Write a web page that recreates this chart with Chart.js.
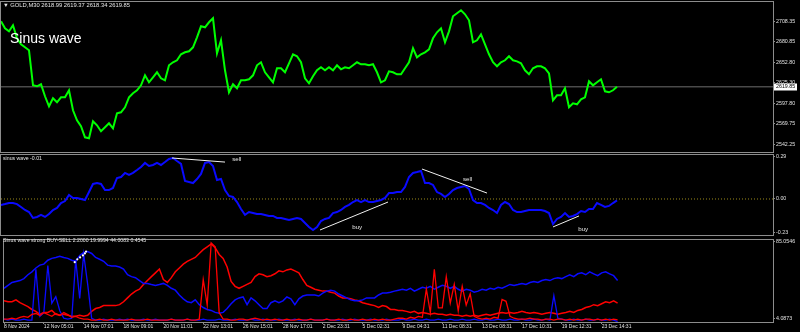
<!DOCTYPE html>
<html>
<head>
<meta charset="utf-8">
<title>GOLD,M30 Sinus wave</title>
<script src="https://cdn.jsdelivr.net/npm/chart.js@4.4.1/dist/chart.umd.min.js"></script>
<style>
html, body { margin:0; padding:0; background:#000; }
#wrap { position:relative; width:800px; height:332px; overflow:hidden; background:#000; }
#wrap canvas { position:absolute; left:0; }
.txt { position:absolute; color:#e6e6e6; font-family:"Liberation Sans","DejaVu Sans",sans-serif; font-size:5.2px; line-height:8px; white-space:nowrap; }
</style>
</head>
<body>
<div id="wrap">
  <canvas id="priceChart" width="800" height="154" style="top:0px"></canvas>
  <canvas id="sinusChart" width="800" height="82" style="top:154px"></canvas>
  <canvas id="strongChart" width="800" height="96" style="top:236px"></canvas>
  <div class="txt" style="left:3px;top:1px;font-size:5.8px">▼ GOLD,M30 2618.99 2619.37 2618.34 2619.85</div>
  <div class="txt" style="left:10px;top:30px;font-size:14px;line-height:16px;color:#fff">Sinus wave</div>
  <div class="txt" style="left:3px;top:154px">sinus wave -0.01</div>
  <div class="txt" style="left:3px;top:236px">Sinus wave strong BUY-SELL 2.2000 19.9994 44.0083 0.4545</div>
</div>
<script>
// one bar sample every 4px, right part of the window left empty (chart shift)
var X_MAX = 193;

var dateTicks = [0, 10, 20, 30, 40, 50, 60, 70, 80, 90, 100, 110, 120, 130, 140, 150];
var dateLabels = ['8 Nov 2024', '12 Nov 05:01', '14 Nov 07:01', '18 Nov 09:01', '20 Nov 11:01',
  '22 Nov 13:01', '26 Nov 15:01', '28 Nov 17:01', '2 Dec 23:31', '5 Dec 02:31', '9 Dec 04:31',
  '11 Dec 08:31', '13 Dec 08:31', '17 Dec 10:31', '19 Dec 12:31', '23 Dec 14:31'];

var priceTicks = [2708.35, 2680.85, 2652.80, 2625.30, 2597.80, 2569.75, 2542.25];
var sinusTicks = [0.29, 0.00, -0.23];
var strongTicks = [85.0546, 4.0873];
var lastPrice = 2619.85;

var price = [
  2708.4, 2698.9, 2694.8, 2703.0, 2685.4, 2677.3, 2673.2, 2669.2, 2621.9, 2620.6,
  2623.3, 2607.1, 2593.6, 2604.4, 2599.0, 2605.7, 2605.7, 2615.2, 2588.2, 2574.7,
  2566.6, 2551.7, 2550.4, 2573.3, 2567.9, 2559.8, 2565.2, 2570.6, 2563.9, 2584.1,
  2585.5, 2592.2, 2605.7, 2611.1, 2615.2, 2621.9, 2635.4, 2626.0, 2632.7, 2639.5,
  2631.4, 2628.7, 2648.9, 2653.0, 2655.7, 2663.8, 2666.5, 2667.8, 2673.2, 2686.7,
  2701.6, 2700.2, 2707.0, 2712.4, 2665.1, 2682.7, 2642.2, 2612.5, 2623.3, 2617.9,
  2628.7, 2628.7, 2630.0, 2635.4, 2648.9, 2653.0, 2639.5, 2632.7, 2626.0, 2644.9,
  2644.9, 2639.5, 2651.6, 2663.8, 2661.1, 2653.0, 2631.4, 2624.6, 2634.1, 2642.2,
  2646.2, 2642.2, 2646.2, 2642.2, 2648.9, 2643.5, 2646.2, 2644.9, 2648.9, 2653.0,
  2650.3, 2650.3, 2648.9, 2650.3, 2639.5, 2626.0, 2628.7, 2640.8, 2639.5, 2636.8,
  2636.8, 2644.9, 2653.0, 2671.9, 2659.7, 2663.8, 2666.5, 2670.5, 2685.4, 2693.5,
  2698.9, 2680.0, 2694.8, 2715.1, 2719.2, 2723.2, 2717.8, 2709.7, 2680.0, 2682.7,
  2690.8, 2677.3, 2663.8, 2653.0, 2647.6, 2653.0, 2655.7, 2661.1, 2655.7, 2654.3,
  2651.6, 2642.2, 2636.8, 2644.9, 2647.6, 2647.6, 2644.9, 2638.1, 2601.7, 2608.4,
  2608.4, 2617.9, 2592.2, 2597.6, 2596.3, 2603.0, 2605.7, 2627.3, 2621.9, 2626.0,
  2630.0, 2613.8, 2612.5, 2615.2, 2619.85];

var sinus = [
  -0.041, -0.035, -0.028, -0.028, -0.035, -0.055, -0.076, -0.090, -0.131, -0.124,
  -0.110, -0.124, -0.104, -0.076, -0.062, -0.028, -0.014, 0.028, 0.007, 0.007,
  0.000, -0.007, 0.048, 0.104, 0.110, 0.104, 0.062, 0.062, 0.076, 0.145,
  0.152, 0.180, 0.166, 0.180, 0.200, 0.221, 0.249, 0.228, 0.235, 0.249,
  0.235, 0.255, 0.276, 0.283, 0.262, 0.242, 0.124, 0.117, 0.110, 0.138,
  0.173, 0.249, 0.255, 0.228, 0.131, 0.138, 0.062, 0.021, 0.014, -0.021,
  -0.069, -0.110, -0.090, -0.097, -0.104, -0.104, -0.110, -0.117, -0.117, -0.131,
  -0.131, -0.138, -0.145, -0.138, -0.131, -0.138, -0.166, -0.193, -0.214, -0.193,
  -0.152, -0.138, -0.131, -0.097, -0.090, -0.076, -0.055, -0.041, -0.021, -0.007,
  -0.021, -0.007, -0.021, -0.021, -0.014, -0.007, 0.007, 0.041, 0.041, 0.048,
  0.048, 0.083, 0.152, 0.180, 0.186, 0.193, 0.110, 0.110, 0.097, 0.048,
  0.035, 0.014, 0.035, 0.062, 0.076, 0.083, 0.090, 0.069, -0.007, -0.028,
  -0.028, -0.041, -0.062, -0.076, -0.097, -0.041, -0.021, -0.035, -0.076, -0.090,
  -0.090, -0.083, -0.076, -0.076, -0.076, -0.076, -0.083, -0.097, -0.173, -0.138,
  -0.124, -0.097, -0.124, -0.117, -0.104, -0.083, -0.090, -0.069, -0.069, -0.028,
  -0.041, -0.055, -0.048, -0.028, -0.010];

// white trend lines and their words on the sinus panel, [sample, value]
var sellLine1 = [[42.75, 0.283], [56, 0.255]];
var sellLine2 = [[105.25, 0.207], [121.5, 0.041]];
var buyLine1 = [[79.75, -0.214], [96.75, -0.021]];
var buyLine2 = [[138, -0.193], [144.5, -0.117]];
var waveTags = [['sell', 57.8, 0.276], ['sell', 115.5, 0.138], ['buy', 87.8, -0.193], ['buy', 144.3, -0.207]];

var buyStrong = [
  35.8, 38.9, 42.0, 43.0, 44.0, 46.1, 50.2, 53.3, 57.4, 60.4,
  61.5, 65.6, 67.6, 68.6, 69.7, 68.6, 67.6, 65.6, 64.5, 70.7,
  73.8, 74.8, 72.8, 68.6, 66.6, 64.5, 60.4, 59.4, 59.4, 58.4,
  56.3, 50.2, 48.2, 47.1, 44.0, 41.0, 41.0, 39.9, 38.9, 39.9,
  41.0, 38.9, 35.8, 33.8, 28.7, 24.6, 21.5, 20.5, 23.5, 18.4,
  15.4, 13.3, 12.3, 10.2, 9.2, 10.2, 14.3, 19.4, 23.5, 25.6,
  26.6, 18.4, 25.6, 22.5, 18.4, 14.3, 14.3, 20.5, 22.5, 20.5,
  22.5, 26.6, 24.6, 18.4, 24.6, 27.6, 28.7, 28.7, 28.7, 27.6,
  30.7, 32.8, 33.8, 32.8, 29.7, 27.6, 25.6, 23.5, 22.5, 22.5,
  23.5, 25.6, 25.6, 25.6, 28.7, 30.7, 30.7, 31.7, 32.8, 33.8,
  34.8, 33.8, 35.8, 32.8, 34.8, 36.9, 35.8, 37.9, 34.8, 36.9,
  38.9, 37.9, 35.8, 37.9, 34.8, 32.8, 34.8, 33.8, 31.7, 32.8,
  34.8, 33.8, 35.8, 34.8, 36.9, 35.8, 37.9, 39.9, 38.9, 39.9,
  41.0, 39.9, 42.0, 43.0, 42.0, 44.0, 45.1, 44.0, 46.1, 47.1,
  46.1, 48.2, 50.2, 48.2, 51.2, 52.2, 50.2, 53.3, 51.2, 49.2,
  52.2, 53.3, 51.2, 49.2, 44.0];

var sellStrong = [
  22.5, 21.5, 21.5, 23.5, 20.5, 18.4, 16.4, 13.3, 11.3, 8.2,
  10.2, 10.2, 12.3, 8.2, 7.2, 8.2, 7.2, 6.1, 6.1, 7.2,
  6.1, 7.2, 11.3, 14.3, 15.4, 17.4, 17.4, 17.4, 17.4, 18.4,
  21.5, 25.6, 29.7, 32.8, 34.8, 39.9, 44.0, 48.2, 52.2, 56.3,
  45.1, 42.0, 47.1, 53.3, 57.4, 61.5, 64.5, 66.6, 68.6, 72.8,
  76.9, 79.9, 83.0, 78.9, 71.7, 67.6, 58.4, 43.0, 37.9, 35.8,
  37.9, 39.9, 42.0, 48.2, 51.2, 50.2, 48.2, 49.2, 51.2, 54.3,
  53.3, 55.3, 56.3, 54.3, 52.2, 45.1, 38.9, 36.9, 34.8, 33.8,
  32.8, 32.8, 31.7, 30.7, 27.6, 25.6, 25.6, 24.6, 23.5, 22.5,
  20.5, 19.4, 18.4, 17.4, 15.4, 17.4, 16.4, 13.3, 13.3, 12.3,
  12.3, 11.3, 10.2, 11.3, 9.2, 10.2, 9.2, 8.2, 9.2, 8.2,
  8.2, 7.2, 8.2, 7.2, 7.2, 6.1, 7.2, 6.1, 7.2, 6.1,
  7.2, 8.2, 7.2, 8.2, 9.2, 10.2, 9.2, 10.2, 9.2, 10.2,
  11.3, 10.2, 9.2, 10.2, 9.2, 8.2, 9.2, 10.2, 9.2, 8.2,
  9.2, 10.2, 11.3, 10.2, 12.3, 13.3, 15.4, 16.4, 18.4, 17.4,
  19.4, 21.5, 20.5, 22.5, 20.0];

var buyPulse = [
  3, 2, 3, 2, 2, 3, 2, 2, 56, 6,
  10, 60, 20, 27, 12, 4, 3, 4, 66, 25,
  72, 40, 4, 2, 2, 3, 2, 2, 2, 3,
  2, 3, 2, 2, 2, 3, 2, 2, 3, 2,
  2, 2, 3, 2, 2, 2, 3, 2, 2, 2,
  3, 2, 2, 2, 3, 2, 2, 2, 3, 2,
  2, 2, 3, 2, 2, 3, 2, 2, 2, 3,
  2, 2, 2, 3, 2, 2, 2, 3, 2, 2,
  2, 3, 2, 2, 2, 3, 2, 2, 3, 2,
  2, 2, 3, 2, 2, 2, 3, 2, 2, 2,
  3, 2, 2, 3, 2, 2, 3, 2, 2, 3,
  2, 2, 3, 2, 2, 3, 2, 2, 3, 2,
  2, 3, 2, 2, 3, 2, 2, 3, 2, 2,
  3, 2, 2, 3, 2, 2, 3, 2, 28, 4,
  3, 2, 2, 3, 2, 2, 3, 2, 2, 3,
  2, 2, 3, 2, 0.45];

var sellPulse = [
  3, 3, 4, 3, 5, 6, 5, 8, 9, 7,
  10, 8, 6, 9, 7, 10, 8, 5, 6, 4,
  3, 3, 2, 2, 3, 2, 2, 3, 2, 2,
  2, 2, 3, 2, 2, 2, 3, 2, 2, 2,
  2, 2, 3, 2, 2, 2, 3, 2, 2, 3,
  45, 18, 84, 80, 10, 3, 3, 2, 2, 3,
  3, 2, 3, 4, 3, 2, 3, 2, 3, 2,
  2, 3, 2, 2, 3, 2, 2, 3, 2, 2,
  2, 3, 2, 2, 3, 2, 2, 3, 2, 2,
  3, 2, 2, 3, 2, 3, 2, 2, 3, 4,
  4, 3, 5, 4, 6, 5, 35, 10, 56, 15,
  15, 48, 20, 40, 12, 38, 18, 30, 6, 4,
  3, 4, 3, 5, 4, 24, 22, 6, 4, 3,
  3, 3, 4, 3, 3, 2, 3, 3, 2, 3,
  3, 2, 3, 2, 3, 2, 3, 3, 2, 3,
  2, 3, 2, 3, 2.2];

// little white arrows over the first buy burst, [sample, value]
var buyMarks = [[17.75, 63.5], [18.4, 66.6], [19.1, 68.6], [19.8, 70.7], [20.3, 72.8], [20.6, 74.8]];

function series(arr) { return arr.map(function (v, i) { return { x: i, y: v }; }); }
function pairs(arr) { return arr.map(function (p) { return { x: p[0], y: p[1] }; }); }

var axisColor = '#8c8c8c';
var labelColor = '#e0e0e0';
var fontFamily = 'Liberation Sans';

// black background and grey frame around each panel
var frame = {
  id: 'frame',
  beforeDraw: function (chart) {
    var ctx = chart.ctx;
    ctx.save();
    ctx.fillStyle = '#000';
    ctx.fillRect(0, 0, chart.width, chart.height);
    ctx.restore();
  },
  afterDraw: function (chart) {
    var a = chart.chartArea, ctx = chart.ctx;
    ctx.save();
    ctx.strokeStyle = axisColor;
    ctx.lineWidth = 1;
    ctx.strokeRect(a.left - 0.5, a.top - 0.5, a.right - a.left + 1, a.bottom - a.top + 1);
    ctx.restore();
  }
};

function yAxis(min, max, ticks, digits) {
  return {
    position: 'right', min: min, max: max,
    afterFit: function (s) { s.width = 27; s.paddingTop = 0; s.paddingBottom = 0; },
    afterBuildTicks: function (s) { s.ticks = ticks.map(function (v) { return { value: v }; }); },
    ticks: { color: labelColor, font: { family: fontFamily, size: 5.3 }, padding: 1,
      callback: function (v) { return Number(v).toFixed(digits); } },
    grid: { drawOnChartArea: false, color: axisColor, tickLength: 2 },
    border: { color: axisColor }
  };
}

function baseOptions(yScale, padTop, padBottom) {
  return {
    responsive: false, animation: false, events: [],
    layout: { padding: { left: 1, right: 0, top: padTop, bottom: padBottom } },
    plugins: { legend: { display: false }, tooltip: { enabled: false } },
    scales: {
      x: { type: 'linear', min: 0, max: X_MAX, display: false },
      y: yScale
    }
  };
}

// ---- price panel
var priceTag = {
  id: 'priceTag',
  afterDraw: function (chart) {
    var ctx = chart.ctx, y = chart.scales.y.getPixelForValue(lastPrice), x = chart.chartArea.right + 1;
    ctx.save();
    ctx.fillStyle = '#fff';
    ctx.fillRect(x, Math.round(y) - 3.5, 23, 7);
    ctx.fillStyle = '#000';
    ctx.font = '5.3px ' + fontFamily;
    ctx.textBaseline = 'middle';
    ctx.fillText(lastPrice.toFixed(2), x + 2, y);
    ctx.restore();
  }
};

new Chart(document.getElementById('priceChart').getContext('2d'), {
  type: 'line',
  data: {
    datasets: [{
      data: series(price), borderColor: '#00ff00', borderWidth: 2, pointRadius: 0, tension: 0
    }, {
      data: [{ x: 0, y: lastPrice }, { x: X_MAX, y: lastPrice }],
      borderColor: '#6e6e6e', borderWidth: 1, pointRadius: 0
    }]
  },
  options: baseOptions(yAxis(2531.85, 2734.4, priceTicks, 2), 2, 2),
  plugins: [frame, priceTag]
});

// ---- sinus wave panel
var tagWriter = {
  id: 'tagWriter',
  afterDatasetsDraw: function (chart) {
    var ctx = chart.ctx, xs = chart.scales.x, ys = chart.scales.y;
    ctx.save();
    ctx.fillStyle = '#e6e6e6';
    ctx.font = '6.2px ' + fontFamily;
    ctx.textBaseline = 'middle';
    waveTags.forEach(function (t) {
      ctx.fillText(t[0], xs.getPixelForValue(t[1]), ys.getPixelForValue(t[2]));
    });
    ctx.restore();
  }
};

function trend(p) {
  return { data: pairs(p), borderColor: '#f0f0f0', borderWidth: 1, pointRadius: 0 };
}

new Chart(document.getElementById('sinusChart').getContext('2d'), {
  type: 'line',
  data: {
    datasets: [trend(sellLine1), trend(sellLine2), trend(buyLine1), trend(buyLine2), {
      data: series(sinus), borderColor: '#0a0aff', borderWidth: 2, pointRadius: 0, tension: 0
    }, {
      data: [{ x: 0, y: 0 }, { x: X_MAX, y: 0 }],
      borderColor: '#9a8a1a', borderWidth: 1, borderDash: [1, 2], pointRadius: 0
    }]
  },
  options: baseOptions(yAxis(-0.2486, 0.3038, sinusTicks, 2), 1, 1),
  plugins: [frame, tagWriter]
});

// ---- strong BUY-SELL panel
var strongOptions = baseOptions(yAxis(0, 87.1, strongTicks, 4), 1, 0);
strongOptions.scales.x = {
  type: 'linear', min: 0, max: X_MAX, position: 'bottom',
  afterFit: function (s) { s.height = 10; s.paddingLeft = 0; s.paddingRight = 0; },
  afterBuildTicks: function (s) { s.ticks = dateTicks.map(function (v) { return { value: v }; }); },
  ticks: { color: labelColor, font: { family: fontFamily, size: 5 }, align: 'start', padding: 0,
    maxRotation: 0, autoSkip: false,
    callback: function (v, i) { return dateLabels[i]; } },
  grid: { drawOnChartArea: false, color: axisColor, tickLength: 2 },
  border: { color: axisColor }
};

new Chart(document.getElementById('strongChart').getContext('2d'), {
  type: 'line',
  data: {
    datasets: [{
      data: pairs(buyMarks), showLine: false, pointRadius: 1.1, pointBackgroundColor: '#ffffff',
      pointBorderWidth: 0
    }, {
      data: series(sellPulse), borderColor: '#ff0000', borderWidth: 1.3, pointRadius: 0, tension: 0
    }, {
      data: series(buyPulse), borderColor: '#0a0aff', borderWidth: 1.3, pointRadius: 0, tension: 0
    }, {
      data: series(buyStrong), borderColor: '#0a0aff', borderWidth: 1.5, pointRadius: 0, tension: 0
    }, {
      data: series(sellStrong), borderColor: '#ff0000', borderWidth: 1.5, pointRadius: 0, tension: 0
    }]
  },
  options: strongOptions,
  plugins: [frame]
});
</script>
</body>
</html>
